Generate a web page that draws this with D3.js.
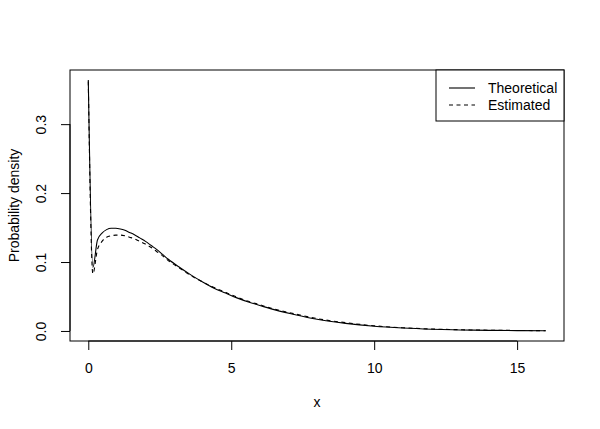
<!DOCTYPE html>
<html>
<head>
<meta charset="utf-8">
<script src="https://cdnjs.cloudflare.com/ajax/libs/d3/7.8.5/d3.min.js"></script>
<style>
  body { margin: 0; background: #ffffff; }
  svg { display: block; }
  text { font-family: "Liberation Sans", Arial, sans-serif; fill: #000; }
</style>
</head>
<body>
<script>
// Values.
const xValues = [0, 0.16, 0.32, 0.48, 0.64, 0.8, 0.96, 1.12, 1.28, 1.44, 1.6, 1.8, 2, 2.2, 2.4,
  2.6, 2.8, 3.2, 3.6, 4, 4.4, 4.8, 5.2, 5.6, 6, 6.4, 7.2, 8, 9, 10, 11, 12, 13, 14, 15, 16];
const theoretical = [0.364, 0.092, 0.132, 0.142, 0.147, 0.149, 0.149, 0.148, 0.146, 0.143,
  0.140, 0.135, 0.130, 0.124, 0.118, 0.111, 0.104, 0.092, 0.081, 0.071, 0.062, 0.055, 0.048,
  0.042, 0.037, 0.032, 0.024, 0.017, 0.011, 0.0068, 0.0042, 0.0025, 0.0015, 0.0009, 0.0005,
  0.0003];
const estimated = [0.362, 0.083, 0.118, 0.130, 0.136, 0.138, 0.139, 0.139, 0.138, 0.136,
  0.134, 0.130, 0.126, 0.121, 0.115, 0.109, 0.102, 0.091, 0.080, 0.071, 0.063, 0.056, 0.049,
  0.043, 0.038, 0.033, 0.025, 0.018, 0.012, 0.0075, 0.0047, 0.0029, 0.0018, 0.0011, 0.0007,
  0.0004];
const xTicks = [0, 5, 10, 15];
const yTicks = [0, 0.1, 0.2, 0.3];
const seriesNames = ['Theoretical', 'Estimated'];

const width = 600;
const height = 429;
const box = { left: 70, right: 564, top: 70, bottom: 341 };

// Scales (R style 4% padding around the data range).
const xMin = d3.min(xValues);
const xMax = d3.max(xValues);
const xPad = (xMax - xMin) * 0.04;
const xScale = d3.scaleLinear()
  .domain([xMin - xPad, xMax + xPad])
  .range([box.left, box.right]);

const yMax = d3.max(theoretical.concat(estimated));
const yPad = yMax * 0.04;
const yScale = d3.scaleLinear()
  .domain([-yPad, yMax + yPad])
  .range([box.bottom, box.top]);

const svg = d3.select('body')
  .append('svg')
  .attr('width', width)
  .attr('height', height);

// Curves.
const line = d3.line()
  .x((d) => xScale(d[0]))
  .y((d) => yScale(d[1]))
  .curve(d3.curveMonotoneX);

svg.append('path')
  .datum(xValues.map((x, i) => [x, theoretical[i]]))
  .attr('d', line)
  .attr('fill', 'none')
  .attr('stroke', '#000')
  .attr('stroke-width', 1.1);

svg.append('path')
  .datum(xValues.map((x, i) => [x, estimated[i]]))
  .attr('d', line)
  .attr('fill', 'none')
  .attr('stroke', '#000')
  .attr('stroke-width', 1.1)
  .attr('stroke-dasharray', '4,3.5');

// Axes.
const xAxis = d3.axisBottom(xScale)
  .tickValues(xTicks)
  .tickSize(9)
  .tickPadding(13)
  .tickFormat(d3.format('d'));

const xg = svg.append('g')
  .attr('transform', 'translate(0,' + box.bottom + ')')
  .call(xAxis);
xg.select('.domain')
  .attr('d', 'M' + xScale(xTicks[0]) + ',0H' + xScale(xTicks[xTicks.length - 1]));

const yAxis = d3.axisLeft(yScale)
  .tickValues(yTicks)
  .tickSize(9)
  .tickFormat(d3.format('.1f'));

const yg = svg.append('g')
  .attr('transform', 'translate(' + box.left + ',0)')
  .call(yAxis);
yg.select('.domain')
  .attr('d', 'M0,' + yScale(yTicks[0]) + 'V' + yScale(yTicks[yTicks.length - 1]));

svg.selectAll('.tick line, .domain').attr('stroke', '#000');
svg.selectAll('.tick text')
  .attr('font-size', '14px')
  .style('font-family', '"Liberation Sans", Arial, sans-serif');

// Rotated y tick labels, like R's las = 0.
yg.selectAll('.tick text')
  .attr('x', null)
  .attr('dy', null)
  .attr('text-anchor', 'middle')
  .attr('transform', 'translate(-24,0) rotate(-90)')
  .attr('y', 0);

// Plot box.
svg.append('rect')
  .attr('x', box.left)
  .attr('y', box.top)
  .attr('width', box.right - box.left)
  .attr('height', box.bottom - box.top)
  .attr('fill', 'none')
  .attr('stroke', '#000')
  .attr('stroke-width', 1);

// Axis titles.
svg.append('text')
  .attr('x', (box.left + box.right) / 2)
  .attr('y', 407)
  .attr('text-anchor', 'middle')
  .attr('font-size', '14px')
  .text('x');

svg.append('text')
  .attr('transform', 'translate(19,' + ((box.top + box.bottom) / 2) + ') rotate(-90)')
  .attr('text-anchor', 'middle')
  .attr('font-size', '14px')
  .text('Probability density');

// Legend.
const legend = svg.append('g');
legend.append('rect')
  .attr('x', 436)
  .attr('y', box.top)
  .attr('width', box.right - 436)
  .attr('height', 51)
  .attr('fill', '#fff')
  .attr('stroke', '#000')
  .attr('stroke-width', 1);

const legendItems = legend.selectAll('g.item')
  .data(seriesNames)
  .enter()
  .append('g')
  .attr('class', 'item')
  .attr('transform', (d, i) => 'translate(0,' + (88 + i * 17) + ')');

legendItems.append('line')
  .attr('x1', 449)
  .attr('x2', 475)
  .attr('stroke', '#000')
  .attr('stroke-width', 1.1)
  .attr('stroke-dasharray', (d, i) => i === 0 ? null : '4,3.5');

legendItems.append('text')
  .attr('x', 488)
  .attr('dy', '0.35em')
  .attr('font-size', '14px')
  .text((d) => d);
</script>
</body>
</html>
